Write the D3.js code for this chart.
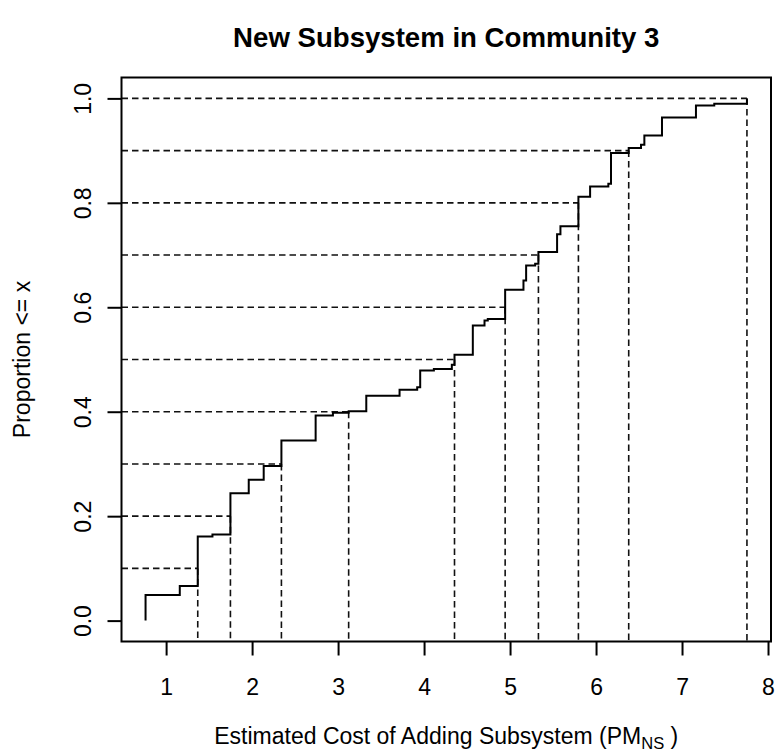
<!DOCTYPE html>
<html>
<head>
<meta charset="utf-8">
<script src="https://cdn.jsdelivr.net/npm/d3@7"></script>
<style>
  body { margin: 0; background: #fff; }
  svg { display: block; }
  text { font-family: "Liberation Sans", Arial, Helvetica, sans-serif; fill: #000; }
</style>
</head>
<body>
<svg id="chart" width="779" height="754"></svg>
<script>
// Empirical CDF of the estimated cost: each jump location and the cumulative proportion after it
const jumpCost = [0.761, 1.159, 1.368, 1.539, 1.748, 1.961, 2.135, 2.341, 2.739, 2.94,
                  3.123, 3.328, 3.715, 3.92, 3.955, 4.114, 4.323, 4.354, 4.567, 4.703,
                  4.741, 4.943, 5.156, 5.187, 5.292, 5.33, 5.547, 5.586, 5.795, 5.931,
                  6.143, 6.174, 6.38, 6.523, 6.562, 6.767, 7.162, 7.375, 7.755];
const jumpProportion = [0.049, 0.0665, 0.161, 0.165, 0.244, 0.2696, 0.296, 0.345, 0.393, 0.398,
                        0.401, 0.4305, 0.442, 0.447, 0.479, 0.482, 0.49, 0.509, 0.565, 0.5747,
                        0.5774, 0.6335, 0.6513, 0.68, 0.6833, 0.7057, 0.74, 0.755, 0.8117, 0.8314,
                        0.8366, 0.8954, 0.905, 0.9113, 0.929, 0.9636, 0.9866, 0.9898, 1.0];
// Probability levels marked with dashed guide lines
const quantileLevels = [0.1, 0.2, 0.3, 0.4, 0.5, 0.6, 0.7, 0.8, 0.9, 1.0];
const xTicks = [1, 2, 3, 4, 5, 6, 7, 8];
const yTicks = [0.0, 0.2, 0.4, 0.6, 0.8, 1.0];

const titleText = "New Subsystem in Community 3";
const yLabel = "Proportion <= x";

const svg = d3.select("#chart");
const box = {left: 121.5, right: 771, top: 77.5, bottom: 641.5};
const fontSize = 23;

// data range padded by 4% on each side
const xMin = d3.min(jumpCost), xMax = d3.max(jumpCost);
const xPad = (xMax - xMin) * 0.04;
const x = d3.scaleLinear().domain([xMin - xPad, xMax + xPad]).range([box.left, box.right]);
const y = d3.scaleLinear().domain([-0.04, 1.04]).range([box.bottom, box.top]);

// step points: start at zero, then jump at each cost value
const steps = [{c: jumpCost[0], p: 0}].concat(jumpCost.map((c, i) => ({c, p: jumpProportion[i]})));

// quantile: first cost where the cumulative proportion reaches the level
const quantiles = quantileLevels.map(q => {
  const i = jumpProportion.findIndex(p => p >= q - 1e-9);
  return {q, c: jumpCost[i]};
});

const guides = svg.append("g").attr("fill", "none").attr("stroke", "#111")
  .attr("stroke-width", 1.6).attr("stroke-dasharray", "6.5,4");
guides.selectAll("line.h").data(quantiles).join("line").attr("class", "h")
  .attr("x1", x(x.domain()[0])).attr("x2", d => x(d.c))
  .attr("y1", d => y(d.q)).attr("y2", d => y(d.q));
guides.selectAll("line.v").data(quantiles).join("line").attr("class", "v")
  .attr("x1", d => x(d.c)).attr("x2", d => x(d.c))
  .attr("y1", d => y(d.q)).attr("y2", y(y.domain()[0]));

// ECDF step curve
const line = d3.line().x(d => x(d.c)).y(d => y(d.p)).curve(d3.curveStepAfter);
svg.append("path").datum(steps)
  .attr("d", line).attr("fill", "none").attr("stroke", "#000").attr("stroke-width", 2);

// plot box
svg.append("rect").attr("x", box.left).attr("y", box.top)
  .attr("width", box.right - box.left).attr("height", box.bottom - box.top)
  .attr("fill", "none").attr("stroke", "#000").attr("stroke-width", 2);

// x axis
const xAxis = svg.append("g").attr("transform", `translate(0,${box.bottom})`)
  .call(d3.axisBottom(x).tickValues(xTicks).tickSize(14).tickFormat(d3.format("d")));
xAxis.select(".domain").remove();
xAxis.selectAll(".tick line").attr("stroke", "#000").attr("stroke-width", 2);
xAxis.selectAll(".tick text").attr("font-size", fontSize).attr("font-family", null)
  .attr("dy", null).attr("y", 53);

// y axis with labels running parallel to the axis
const yAxis = svg.append("g").attr("transform", `translate(${box.left},0)`)
  .call(d3.axisLeft(y).tickValues(yTicks).tickSize(14).tickFormat(d3.format(".1f")));
yAxis.select(".domain").remove();
yAxis.selectAll(".tick line").attr("stroke", "#000").attr("stroke-width", 2);
yAxis.selectAll(".tick text").attr("font-size", fontSize).attr("font-family", null)
  .attr("x", null).attr("dy", null)
  .attr("text-anchor", "middle")
  .attr("transform", "translate(-31,0) rotate(-90)");

// title
svg.append("text").attr("x", (box.left + box.right) / 2).attr("y", 47)
  .attr("text-anchor", "middle")
  .attr("font-size", fontSize * 1.2).attr("font-weight", "bold").text(titleText);

// x axis label with subscript
const xl = svg.append("text").attr("x", (box.left + box.right) / 2).attr("y", 744)
  .attr("text-anchor", "middle").attr("font-size", fontSize);
xl.append("tspan").text("Estimated Cost of Adding Subsystem (PM");
xl.append("tspan").attr("font-size", fontSize * 0.72).attr("dy", 5).text("NS");
xl.append("tspan").attr("dy", -5).text(" )");

// y axis label
svg.append("text")
  .attr("transform", `translate(30,${(box.top + box.bottom) / 2}) rotate(-90)`)
  .attr("text-anchor", "middle")
  .attr("font-size", fontSize).text(yLabel);
</script>
</body>
</html>
